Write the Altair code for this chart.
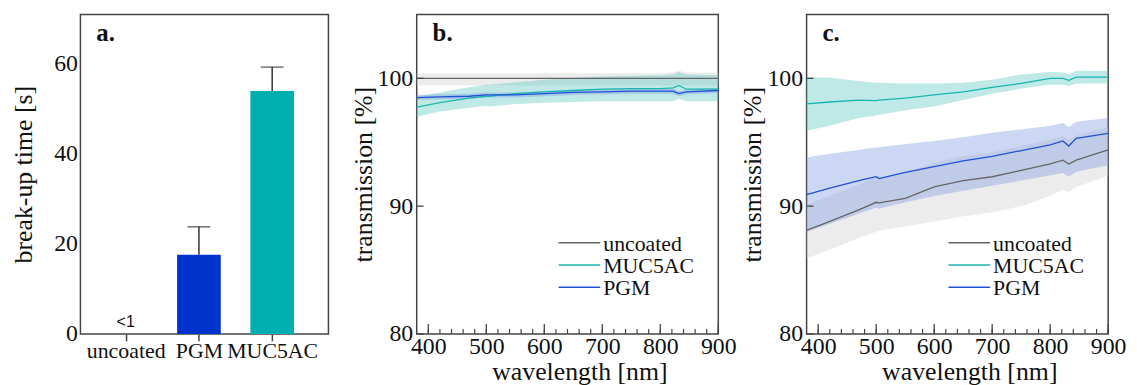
import json
import altair as alt
import pandas as pd

# ---------------- panel a data ----------------
CATEGORIES = ["uncoated", "PGM", "MUC5AC"]
BREAKUP_TIME = [0.0, 17.6, 54.0]
BREAKUP_ERR_TOP = [None, 23.8, 59.3]
BAR_COLORS = ["#ffffff", "#0033cc", "#00afaf"]

# ---------------- panels b / c data ----------------
WAVELENGTH = [380, 420, 470, 500, 505, 550, 600, 650, 700, 750, 800, 822, 832, 845, 900]
SERIES = ["uncoated", "MUC5AC", "PGM"]
LINE_COLORS = ["#666666", "#1ab5ad", "#2050d8"]
BAND_COLORS = ["#cfcfcf", "#5cc9c3", "#7f9be0"]

# panel b
B_UNCOATED_MEAN = [100.0, 100.0, 100.0, 100.0, 100.0, 100.0, 100.0, 100.0, 100.0, 100.0, 100.0, 100.0, 100.0, 100.0, 100.0]
B_UNCOATED_LO = [99.45, 99.45, 99.45, 99.45, 99.45, 99.45, 99.45, 99.45, 99.45, 99.45, 99.45, 99.45, 99.5, 99.45, 99.45]
B_UNCOATED_HI = [100.4, 100.4, 100.4, 100.4, 100.4, 100.4, 100.4, 100.4, 100.4, 100.4, 100.4, 100.45, 100.6, 100.45, 100.45]
B_MUC_MEAN = [97.75, 98.1, 98.45, 98.6, 98.6, 98.8, 98.95, 99.05, 99.15, 99.2, 99.2, 99.25, 99.45, 99.15, 99.15]
B_MUC_LO = [97.0, 97.4, 97.7, 97.85, 97.8, 98.0, 98.1, 98.15, 98.2, 98.2, 98.2, 98.2, 98.4, 98.2, 98.2]
B_MUC_HI = [98.6, 98.9, 99.3, 99.5, 99.5, 99.7, 99.9, 100.05, 100.15, 100.2, 100.25, 100.3, 100.5, 100.3, 100.25]
B_PGM_MEAN = [98.5, 98.55, 98.6, 98.7, 98.7, 98.7, 98.8, 98.9, 98.95, 99.0, 99.0, 99.0, 98.8, 98.95, 99.05]
B_PGM_LO = [98.3, 98.35, 98.4, 98.5, 98.5, 98.5, 98.6, 98.7, 98.75, 98.8, 98.8, 98.8, 98.6, 98.75, 98.85]
B_PGM_HI = [98.7, 98.75, 98.8, 98.9, 98.9, 98.9, 99.0, 99.1, 99.15, 99.2, 99.2, 99.2, 99.0, 99.15, 99.25]

# panel c
C_UNCOATED_MEAN = [88.1, 88.8, 89.7, 90.3, 90.25, 90.6, 91.5, 92.0, 92.3, 92.8, 93.3, 93.6, 93.3, 93.6, 94.4]
C_UNCOATED_LO = [85.9, 86.6, 87.5, 88.0, 88.1, 88.4, 88.8, 89.2, 89.5, 90.0, 90.8, 91.3, 91.1, 91.5, 92.4]
C_UNCOATED_HI = [90.1, 90.8, 91.7, 92.3, 92.25, 92.6, 93.4, 93.9, 94.2, 94.7, 95.2, 95.5, 95.2, 95.5, 96.2]
C_MUC_MEAN = [98.0, 98.15, 98.3, 98.25, 98.3, 98.45, 98.7, 98.95, 99.3, 99.6, 100.0, 100.0, 99.85, 100.1, 100.1]
C_MUC_LO = [95.9, 96.3, 96.9, 97.1, 97.15, 97.5, 97.8, 98.3, 98.8, 99.2, 99.5, 99.5, 99.4, 99.6, 99.6]
C_MUC_HI = [100.1, 100.05, 99.8, 99.65, 99.65, 99.6, 99.6, 99.65, 99.9, 100.3, 100.5, 100.45, 100.3, 100.6, 100.6]
C_PGM_MEAN = [90.9, 91.4, 92.0, 92.3, 92.15, 92.65, 93.1, 93.55, 93.9, 94.35, 94.8, 95.1, 94.7, 95.3, 95.7]
C_PGM_LO = [88.0, 88.6, 89.4, 89.9, 89.8, 90.3, 90.8, 91.2, 91.6, 92.0, 92.4, 92.6, 92.3, 92.7, 93.2]
C_PGM_HI = [93.8, 94.1, 94.4, 94.6, 94.6, 94.85, 95.1, 95.4, 95.75, 96.0, 96.3, 96.5, 96.2, 96.6, 96.9]

Y_TICKS = [80, 90, 100]
X_TICKS = [400, 500, 600, 700, 800, 900]
X_MINOR = [w for w in range(400, 901, 20)]

FONT = "Liberation Serif"
FRAME = "#444444"
TXT = "#111111"
LABEL_SIZE = 24
TITLE_SIZE = 26
W_A, W_BC, H = 250, 304, 322


def long_df(means, los, his):
    rows = []
    for s, m, lo, hi in zip(SERIES, means, los, his):
        for w, a, b, c in zip(WAVELENGTH, m, lo, hi):
            rows.append({"wl": w, "series": s, "mean": a, "lo": b, "hi": c})
    return pd.DataFrame(rows)


def text_layer(label, x, y, size=25, bold=True, font=FONT, color=TXT):
    return alt.Chart(pd.DataFrame({"t": [label]})).mark_text(
        font=font, fontSize=size, fontWeight="bold" if bold else "normal",
        align="left", baseline="alphabetic", color=color
    ).encode(x=alt.value(x), y=alt.value(y), text="t:N")


def axis(**kw):
    base = dict(labelFont=FONT, titleFont=FONT, labelFontSize=LABEL_SIZE,
                titleFontSize=TITLE_SIZE, titleFontWeight="normal", labelColor=TXT,
                titleColor=TXT, labelFlush=False, labelOverlap=False, grid=False, domain=False)
    base.update(kw)
    return alt.Axis(**base)


# ---------------- panel a ----------------
df_a = pd.DataFrame({"pos": list(range(len(CATEGORIES))), "cat": CATEGORIES,
                     "val": BREAKUP_TIME, "err": BREAKUP_ERR_TOP, "col": BAR_COLORS})
df_bars = df_a[df_a["err"].notna()]
label_expr = json.dumps(CATEGORIES) + "[datum.value]"

xa = alt.X("pos:Q", scale=alt.Scale(domain=[-0.55, 2.7], nice=False, zero=False),
           axis=axis(values=[0, 1, 2], labelExpr=label_expr, title=None,
                     ticks=True, tickSize=7, tickColor=FRAME, tickWidth=1.5,
                     labelPadding=0, labelFontSize=22))
ya = alt.Y("val:Q", scale=alt.Scale(domain=[0, 71], nice=False),
           axis=axis(values=[0, 20, 40, 60], title="break-up time [s]", ticks=False,
                     labelPadding=3, titlePadding=17))

bars = alt.Chart(df_bars).mark_bar(size=44).encode(
    x=xa, y=ya, color=alt.Color("col:N", scale=None))
err_line = alt.Chart(df_bars).mark_rule(color="#333", strokeWidth=1.5).encode(
    x="pos:Q", y="val:Q", y2="err:Q")
err_cap = alt.Chart(df_bars).mark_tick(orient="horizontal", size=23, thickness=1.5, color="#333").encode(
    x="pos:Q", y=alt.Y("err:Q"))
lt1 = alt.Chart(df_a[df_a["err"].isna()]).mark_text(
    text="<1", font="Liberation Sans", fontSize=16, baseline="bottom", dy=-4, color=TXT
).encode(x="pos:Q", y="val:Q")

panel_a = alt.layer(bars, err_line, err_cap, lt1, text_layer("a.", 16, 27)).properties(
    width=W_A, height=H)


# ---------------- panels b / c ----------------
def spectrum_panel(df, letter):
    xs = alt.Scale(domain=[380, 900], nice=False, zero=False)
    ys = alt.Scale(domain=[80, 105], nice=False, zero=False)
    xax = axis(values=X_TICKS, title="wavelength [nm]", ticks=False, labelPadding=1,
               titlePadding=0, titleX=W_BC / 2 + 12)
    yax = axis(values=Y_TICKS, title="transmission [%]", ticks=False, labelPadding=4,
               titlePadding=1)
    band = alt.Chart(df).mark_area(opacity=0.4, interpolate="linear").encode(
        x=alt.X("wl:Q", scale=xs, axis=xax),
        y=alt.Y("lo:Q", scale=ys, axis=yax),
        y2="hi:Q",
        fill=alt.Fill("series:N", scale=alt.Scale(domain=SERIES, range=BAND_COLORS), legend=None),
    )
    lines = alt.Chart(df).mark_line(strokeWidth=1.3).encode(
        x="wl:Q", y="mean:Q",
        color=alt.Color("series:N", scale=alt.Scale(domain=SERIES, range=LINE_COLORS), legend=None),
    )
    major = alt.Chart(pd.DataFrame({"wl": X_TICKS})).mark_rule(color=FRAME, strokeWidth=1.3).encode(
        x="wl:Q", y=alt.value(H), y2=alt.value(H - 10))
    minor = alt.Chart(pd.DataFrame({"wl": X_MINOR})).mark_rule(color=FRAME, strokeWidth=1.2).encode(
        x="wl:Q", y=alt.value(H), y2=alt.value(H - 5))
    yt = alt.Chart(pd.DataFrame({"mean": Y_TICKS})).mark_rule(color=FRAME, strokeWidth=1.3).encode(
        y="mean:Q", x=alt.value(0), x2=alt.value(7))
    layers = [band, lines, major, minor, yt, text_layer(letter, 16, 27)]
    # legend
    for i, (s, c) in enumerate(zip(SERIES, LINE_COLORS)):
        yy = 230 + 22.5 * i
        layers.append(alt.Chart(pd.DataFrame({"s": [s]})).mark_rule(color=c, strokeWidth=1.5).encode(
            x=alt.value(143), x2=alt.value(185), y=alt.value(yy)))
        layers.append(alt.Chart(pd.DataFrame({"s": [s]})).mark_text(
            font=FONT, fontSize=22, align="left", baseline="middle", color=TXT, dy=1).encode(
            x=alt.value(188), y=alt.value(yy), text="s:N"))
    return alt.layer(*layers).properties(width=W_BC, height=H)


df_b = long_df([B_UNCOATED_MEAN, B_MUC_MEAN, B_PGM_MEAN],
               [B_UNCOATED_LO, B_MUC_LO, B_PGM_LO],
               [B_UNCOATED_HI, B_MUC_HI, B_PGM_HI])
df_c = long_df([C_UNCOATED_MEAN, C_MUC_MEAN, C_PGM_MEAN],
               [C_UNCOATED_LO, C_MUC_LO, C_PGM_LO],
               [C_UNCOATED_HI, C_MUC_HI, C_PGM_HI])

panel_b = spectrum_panel(df_b, "b.")
panel_c = spectrum_panel(df_c, "c.")

chart = alt.hconcat(panel_a, panel_b, panel_c, spacing=89, bounds="flush").properties(
    padding={"left": 2, "top": 4, "right": 2, "bottom": 0}
).configure(font=FONT).configure_view(stroke=FRAME, strokeWidth=1.5)

chart.save("out.html", embed_options={"renderer": "svg", "actions": False})
